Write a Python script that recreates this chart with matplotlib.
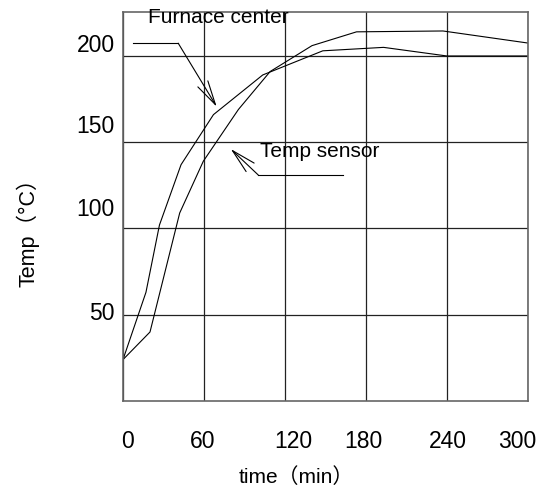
import matplotlib
matplotlib.use('Agg')
import matplotlib.pyplot as plt
import matplotlib.transforms as mtransforms

plt.rcParams['font.family'] = ['Liberation Sans', 'Noto Sans CJK SC']

# curves (time in min, temperature in C)
time_furnace = [0, 17, 27, 43, 67, 103.5, 148, 193, 240, 300]
temp_furnace = [24, 63, 102, 137, 166, 189, 203, 205, 200, 200]

time_sensor = [0, 20, 42, 59.5, 85.5, 109, 140, 173, 237, 300]
temp_sensor = [24, 40, 109, 139, 169, 191, 206, 214, 214.5, 207.5]

x_ticks = [0, 60, 120, 180, 240, 300]
y_ticks = [50, 100, 150, 200]

fig = plt.figure(figsize=(5.44, 4.88), dpi=100)
ax = fig.add_axes([123/544, 1 - 401/488, 405/544, 389/488])

ax.plot(time_furnace, temp_furnace, color='black', lw=0.8)
ax.plot(time_sensor, temp_sensor, color='black', lw=0.8)

ax.set_xlim(0, 300)
ax.set_ylim(0, 225.5)
ax.set_xticks(x_ticks)
ax.set_yticks(y_ticks)
ax.grid(True, color='#222222', lw=0.9)
for s in ax.spines.values():
    s.set_color('#666666')
    s.set_linewidth(1.2)
ax.tick_params(length=0, labelsize=16.5)
ax.tick_params(axis='x', pad=21)
ax.tick_params(axis='y', pad=6)

# labels in the original sit a little off the grid lines
x_lab_dx = [4, -1, 8, -2.5, 1, -11]
y_lab_dy = [4, 21, 18, 13]
for lab, dx in zip(ax.get_xticklabels(), x_lab_dx):
    lab.set_transform(lab.get_transform() + mtransforms.ScaledTranslation(dx/100, 0, fig.dpi_scale_trans))
for lab, dy in zip(ax.get_yticklabels(), y_lab_dy):
    lab.set_transform(lab.get_transform() + mtransforms.ScaledTranslation(0, dy/100, fig.dpi_scale_trans))

fig.text(296.5/544, 1 - 483/488, 'time（min）', fontsize=15, ha='center', va='baseline')
fig.text(28/544, 1 - 227/488, 'Temp（°C）', fontsize=15.5, ha='center', va='center', rotation=90)

arrow = dict(arrowstyle='->,head_length=1.75,head_width=0.42', color='black', lw=0.8,
             shrinkA=0, shrinkB=0)

# Furnace center callout
ax.text(70.4, 219.3, 'Furnace center', fontsize=15, ha='center', va='baseline', clip_on=False)
ax.plot([7.2, 40.9], [207.4, 207.4], color='black', lw=0.8)
ax.annotate('', xy=(69.4, 170.6), xytext=(40.9, 207.4), arrowprops=arrow)

# Temp sensor callout
ax.text(101.5, 141.6, 'Temp sensor', fontsize=15, ha='left', va='baseline')
ax.plot([100.2, 163], [131, 131], color='black', lw=0.8)
ax.annotate('', xy=(79.8, 146.1), xytext=(100.2, 131), arrowprops=arrow)

fig.savefig('out.png', dpi=100)
